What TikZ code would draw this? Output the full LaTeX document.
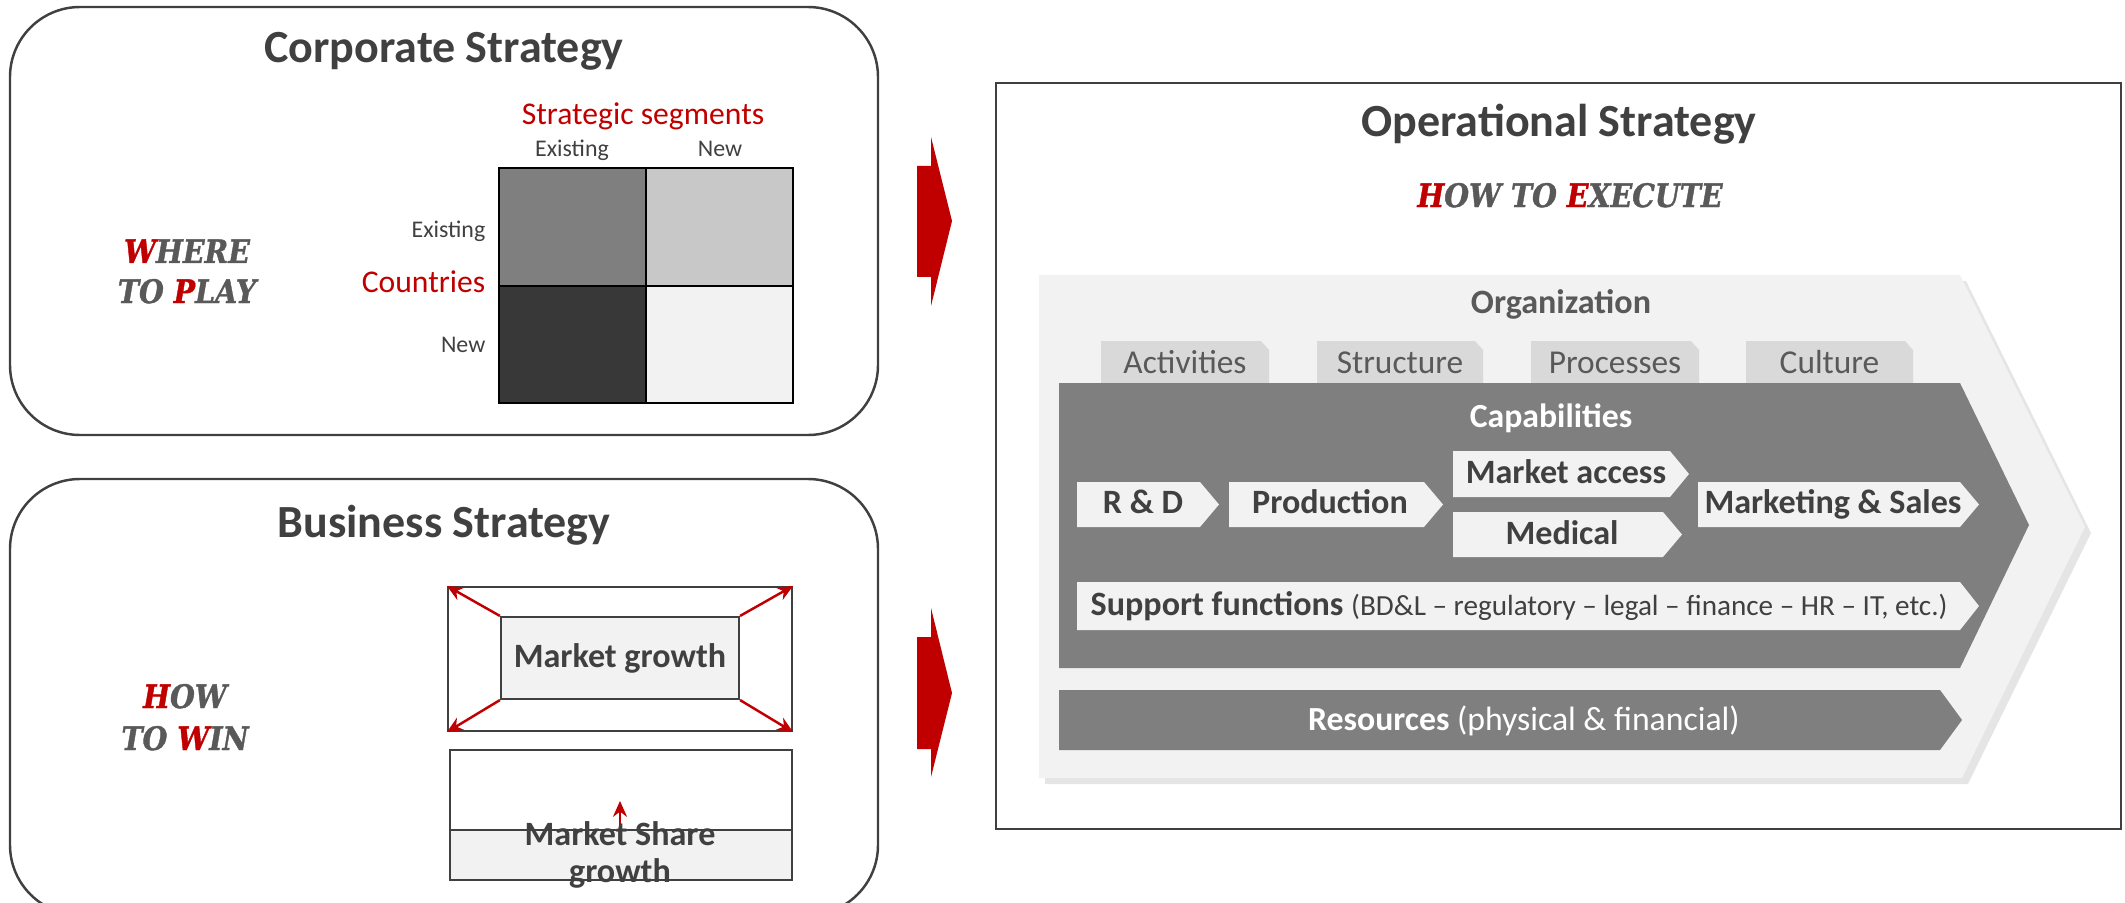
\documentclass[tikz,border=0pt]{standalone}
\usepackage{fontspec}
\setmainfont{Carlito}
\newfontfamily\slabfont[FakeStretch=0.88, FakeBold=1.2]{DejaVu Serif}
\usepackage{tikz}
\usetikzlibrary{arrows.meta, calc}
\definecolor{brick}{HTML}{C00000}
\definecolor{ink}{HTML}{404040}
\definecolor{slate}{HTML}{595959}
\definecolor{paleg}{HTML}{F2F2F2}
\definecolor{tabg}{HTML}{D9D9D9}
\definecolor{midg}{HTML}{7F7F7F}
\definecolor{softg}{HTML}{C8C8C8}
\definecolor{deepg}{HTML}{383838}

\begin{document}
\begin{tikzpicture}[x=0.1mm, y=-0.1mm,
  heading/.style={font=\fontsize{13.1}{16}\selectfont\bfseries, text=ink, inner sep=0},
  slogan/.style={font=\fontsize{9.2}{11}\selectfont\slabfont\bfseries\itshape, text=slate, inner sep=0},
  redlab/.style={font=\fontsize{9}{11}\selectfont, text=brick, inner sep=0},
  axislab/.style={font=\fontsize{6.8}{8}\selectfont, text=ink, inner sep=0},
  boldlab/.style={font=\fontsize{9.7}{10.5}\selectfont\bfseries, text=ink, inner sep=0},
  tablab/.style={font=\fontsize{9.5}{11}\selectfont, text=slate, inner sep=0},
  whitelab/.style={font=\fontsize{9.6}{11}\selectfont, text=white, inner sep=0},
  panel/.style={draw=ink, line width=0.7pt, rounded corners=7mm},
  frame/.style={draw=ink, line width=0.6pt, inner sep=0},
  redarrow/.style={draw=brick, line width=0.7pt, -{Stealth[length=4.5pt, width=4pt]}}]

  \useasboundingbox (0,0) rectangle (2125,903);
  \clip (0,0) rectangle (2125,903);

  % corporate strategy panel
  \draw[panel] (10,7) rectangle (878,435);
  \node[heading, anchor=base] (corptitle) at (444,63) {Corporate Strategy};
  \node[redlab, anchor=base] (segments) at (643,125) {Strategic segments};
  \node[axislab, anchor=base] (colold) at (572,157) {Existing};
  \node[axislab, anchor=base] (colnew) at (720,157) {New};
  \fill[midg] (499,168) rectangle (646,286);
  \fill[softg] (646,168) rectangle (793,286);
  \fill[deepg] (499,286) rectangle (646,403);
  \fill[paleg] (646,286) rectangle (793,403);
  \draw[line width=0.5pt] (499,168) rectangle (793,403) (646,168) -- (646,403) (499,286) -- (793,286);
  \node[axislab, anchor=base east] (rowold) at (486,237) {Existing};
  \node[redlab, anchor=base east] (countries) at (486,293) {Countries};
  \node[axislab, anchor=base east] (rownew) at (486,353) {New};
  \node[slogan, anchor=base] (where) at (187,263) {\textcolor{brick}{W}HERE};
  \node[slogan, anchor=base] (toplay) at (187,303) {TO \textcolor{brick}{P}LAY};

  % business strategy panel
  \draw[panel] (10,479) rectangle (878,915);
  \node[heading, anchor=base] (bustitle) at (444,537) {Business Strategy};
  \node[frame, minimum width=34.4mm, minimum height=14.4mm] (outer) at (620,659) {};
  \node[frame, boldlab, fill=paleg, minimum width=23.8mm, minimum height=8.2mm] (growth) at (620,658) {Market growth};
  \foreach \c in {north west, north east, south west, south east}
    \draw[redarrow] (growth.\c) -- (outer.\c);
  \fill[paleg] (450,830) rectangle (792,880);
  \node[frame, minimum width=34.2mm, minimum height=13mm] (sharebox) at (621,815) {};
  \draw[ink, line width=0.6pt] (450,830) -- (792,830);
  \coordinate (sharelvl) at (620,830);
  \coordinate (sharetip) at (620,801);
  \draw[redarrow] (sharelvl) -- (sharetip);
  \node[boldlab, align=center] (sharetxt) at (620,855) {Market Share\\growth};
  \node[slogan, anchor=base] (how) at (185,708) {\textcolor{brick}{H}OW};
  \node[slogan, anchor=base] (towin) at (185,750) {TO \textcolor{brick}{W}IN};

  % red block arrows
  \fill[brick] (917,166) -- (931,166) -- (931,137) -- (952,221) -- (931,306) -- (931,277) -- (917,277) -- cycle;
  \fill[brick] (917,637) -- (931,637) -- (931,608) -- (952,693) -- (931,777) -- (931,749) -- (917,749) -- cycle;

  % operational strategy panel
  \draw[ink, line width=0.6pt] (996,83) rectangle (2121,829);
  \node[heading, anchor=base] (optitle) at (1559,137) {Operational Strategy};
  \node[slogan, anchor=base] (execute) at (1570,207) {\textcolor{brick}{H}OW TO \textcolor{brick}{E}XECUTE};
  % organization chevron, soft shadow first
  \fill[black!10] (1045,281) -- (1966,281) -- (2091,533) -- (1968,784) -- (1045,784) -- cycle;
  \fill[paleg] (1039,275) -- (1960,275) -- (2085,527) -- (1962,778) -- (1039,778) -- cycle;
  \node[boldlab, text=slate, anchor=base] (org) at (1561,313) {Organization};
  \foreach \lbl/\xa/\xb in {Activities/1101/1269, Structure/1317/1483, Processes/1531/1699, Culture/1746/1913} {
    \fill[tabg] (\xa,383) -- (\xa,341) -- ({\xb-8},341) -- (\xb,350) -- (\xb,383) -- cycle;
    \node[tablab, anchor=base] (\lbl) at ({(\xa+\xb)/2},374) {\lbl};
  }
  % capabilities
  \fill[midg] (1059,383) -- (1960,383) -- (2029,525) -- (1960,668) -- (1059,668) -- cycle;
  \node[whitelab, font=\fontsize{9.6}{11}\selectfont\bfseries, anchor=base] (capab) at (1551,427) {Capabilities};
  \foreach \xa/\xb/\ya/\yb in {1077/1200/482/527, 1229/1424/482/527, 1453/1670/451/497,
                               1453/1663/512/557, 1698/1960/482/527, 1077/1960/582/630}
    \fill[paleg] (\xa,\ya) -- (\xb,\ya) -- ({\xb+19},{(\ya+\yb)/2}) -- (\xb,\yb) -- (\xa,\yb) -- cycle;
  \node[boldlab, anchor=base] (rd) at (1143,513) {R \& D};
  \node[boldlab, anchor=base] (prod) at (1330,513) {Production};
  \node[boldlab, anchor=base] (access) at (1566,483) {Market access};
  \node[boldlab, anchor=base] (medical) at (1562,544) {Medical};
  \node[boldlab, anchor=base] (sales) at (1833,513) {Marketing \& Sales};
  \node[boldlab, anchor=base west] (support) at (1090,615)
    {Support functions {\mdseries\fontsize{8.3}{10}\selectfont (BD\&L -- regulatory -- legal -- finance -- HR -- IT, etc.)}};
  % resources
  \fill[midg] (1059,690) -- (1940,690) -- (1962,720) -- (1940,750) -- (1059,750) -- cycle;
  \node[whitelab, anchor=base] (resources) at (1524,730) {\textbf{Resources} (physical \& financial)};
\end{tikzpicture}
\end{document}
